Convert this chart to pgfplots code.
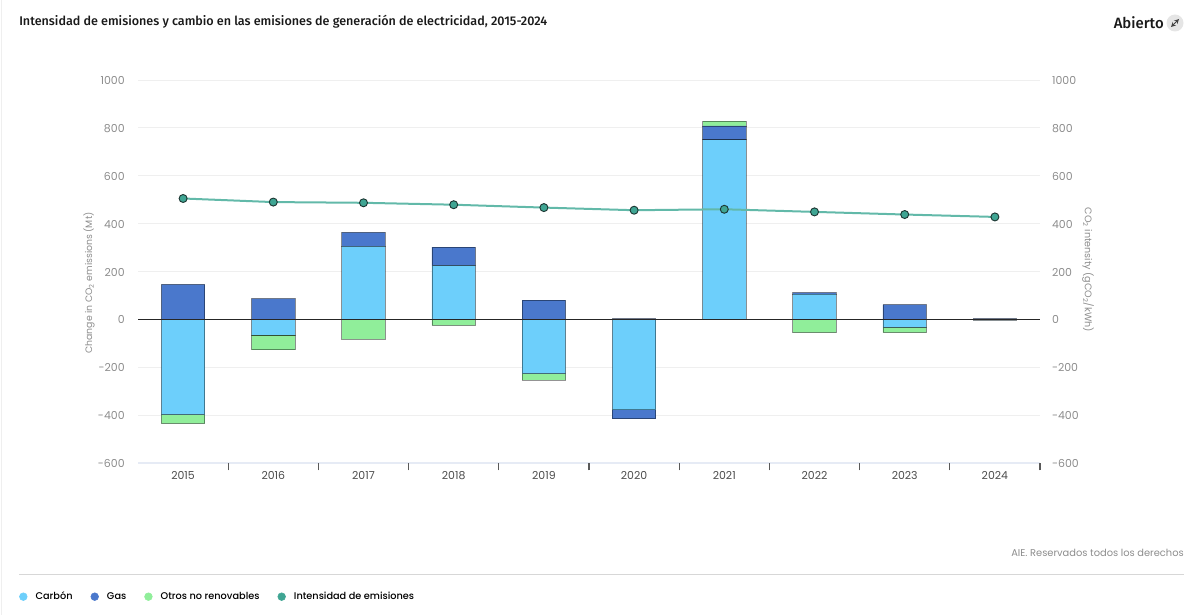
\documentclass[border=0pt]{standalone}
\usepackage{pgfplots}
\usepackage{pgfplotstable}
\usepackage{fontspec}
\pgfplotsset{compat=1.18}
\setmainfont{Poppins}
\newfontfamily\headfont{Fira Sans Medium}
\newfontfamily\medfont{Poppins Medium}

\definecolor{carbon}{HTML}{6DCFFB}
\definecolor{gas}{HTML}{4A78CC}
\definecolor{otros}{HTML}{90EE9A}
\definecolor{intens}{HTML}{62B9A9}
\definecolor{intensdot}{HTML}{3FA593}
\definecolor{gridc}{HTML}{EFEFEF}
\definecolor{tickc}{HTML}{8C8C8C}
\definecolor{axisc}{HTML}{E6EBF5}

% year index, carbon, gas, other (positive side)
\pgfplotstableread{
x carbon gas otros
0 0   146 0
1 0   87  0
2 305 58  0
3 225 77  0
4 0   80  0
5 0   3   0
6 750 58  20
7 105 7   0
8 0   62  0
9 0   3   0
}\postable
% negative side
\pgfplotstableread{
x carbon gas otros
0 -398 0   -37
1 -65  0   -62
2 0    0   -83
3 0    0   -25
4 -227 0   -26
5 -378 -37 0
6 0    0   0
7 0    0   -55
8 -33  0   -22
9 -3   0   0
}\negtable
\pgfplotstableread{
x y
0 505
1 490
2 487
3 479
4 467
5 456
6 460
7 449
8 438
9 428
}\intenstable

\pgfplotsset{
  base/.style={
    scale only axis, width=676.5pt, height=287.25pt,
    at={(103.5pt,114pt)}, anchor=south west,
    xmin=-0.5, xmax=9.5, ymin=-600, ymax=1000,
    ytick={-600,-400,...,1000},
    yticklabels={-600,-400,-200,0,200,400,600,800,1000},
  },
  stk/.style={base, ybar stacked, bar width=32.6pt, hide axis},
  barline/.style={draw=black, draw opacity=0.42, line width=0.6pt},
}

\begin{document}
\begin{tikzpicture}
\path[use as bounding box] (0,0) rectangle (900pt,461.25pt);

\begin{axis}[
    base,
    axis y line*=left, axis x line*=bottom,
    y axis line style={draw=none},
    x axis line style={draw=axisc, line width=0.8pt},
    ymajorgrids, grid style={gridc, line width=0.6pt},
    ytick style={draw=none},
    xtick={0,...,9},
    xticklabels={2015,2016,2017,2018,2019,2020,2021,2022,2023,2024},
    xtick style={draw=black!65, line width=0.8pt},
    tick align=outside,
    major tick length=0pt,
    extra x ticks={0.5,1.5,...,9.5},
    extra x tick labels={},
    extra x tick style={major tick length=5.5pt},
    tick label style={font=\fontsize{8.2}{9}\selectfont},
    yticklabel style={tickc, xshift=-6.5pt, yshift=-0.4pt},
    xticklabel style={black!70, yshift=-3pt},
    ylabel={Change in CO\textsubscript{2} emissions (Mt)},
    every axis y label/.style={at={(rel axis cs:-0.0543,0.47)}, anchor=center, rotate=90,
      font=\fontsize{7}{8}\selectfont, tickc},
    legend columns=4,
    legend style={draw=none, fill=none, at={(-0.132,-0.349)}, anchor=west,
      font=\medfont\fontsize{7.3}{9}\selectfont, inner sep=0pt,
      /tikz/every even column/.style={column sep=11.5pt}},
    legend cell align=left,
    legend image code/.code={\fill[#1] (0pt,0pt) circle (2.9pt); \path (7pt,0pt);},
]
\addlegendimage{carbon}
\addlegendentry{Carbón}
\addlegendimage{gas}
\addlegendentry{Gas}
\addlegendimage{otros}
\addlegendentry{Otros no renovables}
\addlegendimage{intensdot}
\addlegendentry{Intensidad de emisiones}
\end{axis}

% positive stack
\begin{axis}[stk]
\addplot[fill=carbon, barline] table[x=x, y=carbon] {\postable};
\addplot[fill=gas, barline] table[x=x, y=gas] {\postable};
\addplot[fill=otros, barline] table[x=x, y=otros] {\postable};
\end{axis}

% negative stack
\begin{axis}[stk]
\addplot[fill=carbon, barline] table[x=x, y=carbon] {\negtable};
\addplot[fill=gas, barline] table[x=x, y=gas] {\negtable};
\addplot[fill=otros, barline] table[x=x, y=otros] {\negtable};
\end{axis}

% right axis, zero line and intensity
\begin{axis}[
    base,
    axis y line*=right, axis x line=none,
    y axis line style={draw=none},
    ytick style={draw=none},
    tick label style={font=\fontsize{8.2}{9}\selectfont},
    yticklabel style={tickc, xshift=5.5pt, yshift=-0.4pt},
    ylabel={CO\textsubscript{2} intensity (gCO\textsubscript{2}/kWh)},
    every axis y label/.style={at={(rel axis cs:1.0532,0.504)}, anchor=center, rotate=-90,
      font=\fontsize{7.2}{8}\selectfont, tickc},
    clip=false,
]
\addplot[black!85, line width=0.7pt, forget plot] coordinates {(-0.5,0)(9.5,0)};
\addplot[intens, line width=1.5pt, mark=*, mark size=3pt,
    mark options={fill=intensdot, draw=black!70!intens, line width=0.7pt}]
    table[x=x, y=y] {\intenstable};
\end{axis}

\begin{scope}[x=0.75pt, y=-0.75pt, yshift=461.25pt]
\draw[gridc, line width=0.75pt] (1,0) -- (1,615);
\draw[gridc!90!black, line width=0.75pt] (19,574.5) -- (1184,574.5);
\node[anchor=west, inner sep=0, font=\headfont\fontsize{9.43}{10}\selectfont, black!90] at (19,22) {Intensidad de emisiones y cambio en las emisiones de generación de electricidad, 2015-2024};
\node[anchor=east, inner sep=0, font=\headfont\fontsize{11.2}{12}\selectfont, black!90] at (1164,23) {Abierto};
\fill[black!10] (1175,23) circle (8.5);
\draw[black!75, line width=0.6pt, <->, >=stealth] (1171,27) -- (1179,19);
\node[anchor=east, inner sep=0, font=\fontsize{7.4}{9}\selectfont, tickc] at (1184,553) {AIE. Reservados todos los derechos};
\end{scope}
\end{tikzpicture}
\end{document}
